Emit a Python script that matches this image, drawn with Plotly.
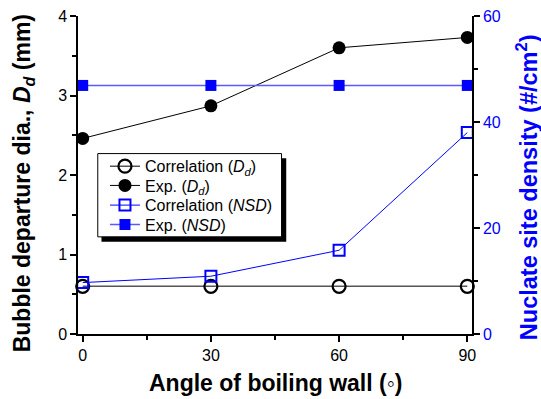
import plotly.graph_objects as go

angles = [0, 30, 60, 90]
corr_dd = [0.6, 0.6, 0.6, 0.6]
exp_dd = [2.46, 2.87, 3.60, 3.73]
corr_nsd = [9.7, 10.9, 15.8, 38.0]
exp_nsd = [46.9, 46.9, 46.9, 46.9]

x_ticks = [0, 30, 60, 90]
left_ticks = [0, 1, 2, 3, 4]
right_ticks = [0, 20, 40, 60]

FONT = "Liberation Sans, Arial, sans-serif"
BLUE = "#0000ff"

L, R, T, B = 77.5, 69, 15.5, 65
W, H = 541, 399
pw, ph = W - L - R, H - T - B

def px_x(px):
    return (px - L) / pw

def px_y(py):
    return (H - B - py) / ph

fig = go.Figure()
fig.add_trace(go.Scatter(
    x=angles, y=corr_dd, mode="lines+markers", name="Correlation (<i>D<sub>d</sub></i>)",
    line=dict(color="#555555", width=1.5),
    marker=dict(symbol="circle-open", size=13, color="black", line=dict(width=2.2, color="black")),
    cliponaxis=False, legend="legend"))
fig.add_trace(go.Scatter(
    x=angles, y=exp_dd, mode="lines+markers", name="Exp. (<i>D<sub>d</sub></i>)",
    line=dict(color="black", width=1),
    marker=dict(symbol="circle", size=13, color="black"),
    cliponaxis=False, legend="legend2"))
fig.add_trace(go.Scatter(
    x=angles, y=corr_nsd, mode="lines+markers", name="Correlation (<i>NSD</i>)", yaxis="y2",
    line=dict(color=BLUE, width=1),
    marker=dict(symbol="square-open", size=11, color=BLUE, line=dict(width=2, color=BLUE)),
    cliponaxis=False, legend="legend3"))
fig.add_trace(go.Scatter(
    x=angles, y=exp_nsd, mode="lines+markers", name="Exp. (<i>NSD</i>)", yaxis="y2",
    line=dict(color="#5a5aff", width=1.5),
    marker=dict(symbol="square", size=11, color=BLUE),
    cliponaxis=False, legend="legend4"))

# legend frame with drop shadow
fig.add_shape(type="rect", xref="paper", yref="paper",
              x0=px_x(101), x1=px_x(286), y0=px_y(241.7), y1=px_y(158),
              fillcolor="black", line=dict(width=0), layer="above")
fig.add_shape(type="rect", xref="paper", yref="paper",
              x0=px_x(97.3), x1=px_x(281.3), y0=px_y(236.7), y1=px_y(153.3),
              fillcolor="white", line=dict(width=1, color="black"), layer="above")

leg_rows = [166, 185.3, 205, 224.5]
leg_common = dict(xanchor="left", yanchor="middle", bgcolor="rgba(0,0,0,0)", borderwidth=0,
                  font=dict(family=FONT, size=16, color="black"), itemwidth=30)
legends = {}
for i, yy in enumerate(leg_rows):
    key = "legend" if i == 0 else f"legend{i + 1}"
    legends[key] = dict(x=px_x(104.5), y=px_y(yy), **leg_common)

axis_common = dict(showgrid=False, zeroline=False, showline=True, linecolor="black", linewidth=1.5,
                   ticks="outside", ticklen=6, tickwidth=1.5, tickcolor="black", automargin=False)

fig.update_layout(
    width=W, height=H,
    margin=dict(l=L, r=R, t=T, b=B, autoexpand=False),
    paper_bgcolor="white", plot_bgcolor="white",
    font=dict(family=FONT, size=16, color="black"),
    showlegend=True,
    **legends,
    xaxis=dict(range=[-1.1, 91.1], tickvals=x_ticks, **axis_common,
               tickfont=dict(size=16),
               minor=dict(dtick=15, ticks="outside", ticklen=4, tickwidth=1.5, tickcolor="black")),
    xaxis2=dict(range=[-1.1, 91.1], overlaying="x", side="top", anchor="y", matches="x",
                showgrid=False, zeroline=False, showline=True, linecolor="black", linewidth=1.5,
                tickvals=x_ticks, ticks="inside", ticklen=4, tickwidth=1.5, tickcolor="black",
                showticklabels=False, automargin=False,
                minor=dict(dtick=15, ticks="inside", ticklen=3, tickwidth=1.5, tickcolor="black")),
    yaxis=dict(range=[0, 4], tickvals=left_ticks, **axis_common,
               tickfont=dict(size=16),
               minor=dict(dtick=0.5, ticks="outside", ticklen=4, tickwidth=1.5, tickcolor="black")),
    yaxis2=dict(range=[0, 60], tickvals=right_ticks, overlaying="y", side="right",
                showgrid=False, zeroline=False, showline=True, linecolor="black", linewidth=1.5,
                ticks="outside", ticklen=6, tickwidth=1.5, tickcolor="black", automargin=False,
                tickfont=dict(color=BLUE, size=16),
                minor=dict(dtick=10, ticks="outside", ticklen=4, tickwidth=1.5, tickcolor="black")),
)

# axis titles
fig.add_annotation(text="<b>Angle of boiling wall (◦)</b>", xref="paper", yref="paper",
                   x=px_x(275), y=px_y(383), xanchor="center", yanchor="middle",
                   showarrow=False, font=dict(size=23, family=FONT, color="black"))
fig.add_annotation(text="<b>Bubble departure dia., <i>D<sub>d</sub></i> (mm)</b>", xref="paper", yref="paper",
                   x=px_x(22.5), y=px_y(183), xanchor="center", yanchor="middle", textangle=-90,
                   showarrow=False, font=dict(size=23, family=FONT, color="black"))
fig.add_annotation(text="<b>Nuclate site density (#/cm<sup>2</sup>)</b>", xref="paper", yref="paper",
                   x=px_x(527), y=px_y(187), xanchor="center", yanchor="middle", textangle=-90,
                   showarrow=False, font=dict(size=23.5, family=FONT, color=BLUE))

fig.write_html("out.html", config={"displayModeBar": False},
               post_script="document.body.style.margin='0px';document.body.style.padding='0px';")
